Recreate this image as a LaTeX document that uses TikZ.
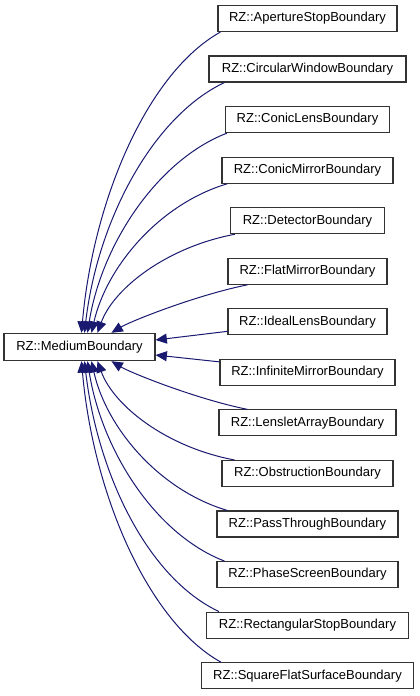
\documentclass[tikz,border=0pt]{standalone}
\usepackage{fontspec}
\setmainfont{Liberation Sans}
\usepackage{xcolor}
\usetikzlibrary{arrows.meta, calc}
\definecolor{edgeblue}{HTML}{191970}

\begin{document}
\begin{tikzpicture}[
  x=0.75pt, y=-0.75pt,
  cls/.style={rectangle, draw=black!80, line width=0.8pt, fill=white,
    minimum width=#1*0.75pt, minimum height=19.5pt, inner sep=0pt,
    font=\fontsize{9.75}{11.7}\selectfont},
  inherit/.style={-{Triangle[length=8.5pt, width=7.5pt]}, line width=0.75pt,
    color=edgeblue}
]
  \useasboundingbox (0,0) rectangle (419,696);

  %% base class
  \node[cls=151, minimum height=20.5pt] (MB) at (79.5, 347) {RZ::MediumBoundary};

  %% derived classes
  \node[cls=179] (aperture)    at (307.5,  18.5) {RZ::ApertureStopBoundary};
  \node[cls=197] (circular)    at (307.5,  69.0) {RZ::CircularWindowBoundary};
  \node[cls=164] (coniclens)   at (307.5, 119.6) {RZ::ConicLensBoundary};
  \node[cls=171] (conicmirror) at (307.5, 170.2) {RZ::ConicMirrorBoundary};
  \node[cls=154] (detector)    at (307.5, 220.7) {RZ::DetectorBoundary};
  \node[cls=159] (flatmirror)  at (307.5, 271.3) {RZ::FlatMirrorBoundary};
  \node[cls=159] (ideallens)   at (307.5, 321.8) {RZ::IdealLensBoundary};
  \node[cls=175] (infmirror)   at (307.5, 372.4) {RZ::InfiniteMirrorBoundary};
  \node[cls=177] (lenslet)     at (307.5, 422.9) {RZ::LensletArrayBoundary};
  \node[cls=171] (obstruction) at (307.5, 473.5) {RZ::ObstructionBoundary};
  \node[cls=181] (passthrough) at (307.5, 524.0) {RZ::PassThroughBoundary};
  \node[cls=181] (phasescreen) at (307.5, 574.6) {RZ::PhaseScreenBoundary};
  \node[cls=202] (rectstop)    at (307.5, 625.1) {RZ::RectangularStopBoundary};
  \node[cls=212] (squareflat)  at (307.5, 675.7) {RZ::SquareFlatSurfaceBoundary};

  %% upper edges into the top of the base class
  \draw[inherit] ($(aperture.south west)+(3,0)$)
    .. controls +(-72,40) and +(12,-135) .. ($(MB.north west)+(78,0)$);
  \draw[inherit] ($(circular.south west)+(16,0)$)
    .. controls +(-72,34) and +(13,-112) .. ($(MB.north west)+(81,0)$);
  \draw[inherit] ($(coniclens.south west)+(2,0)$)
    .. controls +(-70,27) and +(14,-88) .. ($(MB.north west)+(84,0)$);
  \draw[inherit] ($(conicmirror.south west)+(6,0)$)
    .. controls +(-68,20) and +(15,-66) .. ($(MB.north west)+(88,0)$);
  \draw[inherit] ($(detector.south west)+(5,0)$)
    .. controls +(-69,13) and +(16,-44) .. ($(MB.north west)+(94,0)$);
  \draw[inherit] ($(flatmirror.south west)+(20,0)$)
    .. controls +(-50,10) and +(20,-12) .. ($(MB.north west)+(108,0)$);

  %% middle edges into the right side
  \draw[inherit] ($(ideallens.south west)+(0,-4)$) -- ($(MB.east)+(0,-7)$);
  \draw[inherit] ($(infmirror.north west)+(0,3)$) -- ($(MB.east)+(0,8)$);

  %% lower edges into the bottom of the base class
  \draw[inherit] ($(lenslet.north west)+(29,0)$)
    .. controls +(-50,-10) and +(20,12) .. ($(MB.south west)+(108,0)$);
  \draw[inherit] ($(obstruction.north west)+(13,0)$)
    .. controls +(-69,-13) and +(16,44) .. ($(MB.south west)+(94,0)$);
  \draw[inherit] ($(passthrough.north west)+(11,0)$)
    .. controls +(-68,-20) and +(15,67) .. ($(MB.south west)+(88,0)$);
  \draw[inherit] ($(phasescreen.north west)+(8,0)$)
    .. controls +(-70,-27) and +(14,88) .. ($(MB.south west)+(84,0)$);
  \draw[inherit] ($(rectstop.north west)+(13,0)$)
    .. controls +(-72,-34) and +(13,112) .. ($(MB.south west)+(81,0)$);
  \draw[inherit] ($(squareflat.north west)+(20,0)$)
    .. controls +(-72,-40) and +(12,135) .. ($(MB.south west)+(78,0)$);

\end{tikzpicture}
\end{document}
